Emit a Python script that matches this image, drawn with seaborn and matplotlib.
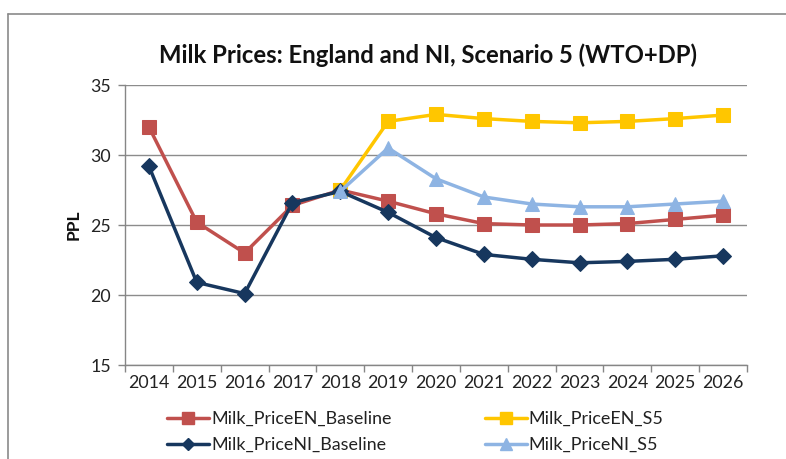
import numpy as np
import pandas as pd
import matplotlib
matplotlib.use("Agg")
import matplotlib.pyplot as plt
from matplotlib.lines import Line2D
import seaborn as sns

years = ["2014", "2015", "2016", "2017", "2018", "2019", "2020",
         "2021", "2022", "2023", "2024", "2025", "2026"]
en_baseline = [32.0, 25.2, 23.0, 26.4, 27.5, 26.7, 25.8, 25.1, 25.0, 25.0, 25.1, 25.4, 25.7]
ni_baseline = [29.2, 20.9, 20.1, 26.6, 27.4, 25.9, 24.1, 22.9, 22.55, 22.3, 22.4, 22.55, 22.8]
s5_years = ["2018", "2019", "2020", "2021", "2022", "2023", "2024", "2025", "2026"]
en_s5 = [27.5, 32.4, 32.9, 32.6, 32.4, 32.3, 32.4, 32.6, 32.85]
ni_s5 = [27.4, 30.5, 28.3, 27.0, 26.5, 26.3, 26.3, 26.5, 26.7]

title = "Milk Prices: England and NI, Scenario 5 (WTO+DP)"
ylabel = "PPL"

sns.set_theme(style="white")
plt.rcParams['font.family'] = ['Lato', 'DejaVu Sans']

fig = plt.figure(figsize=(7.86, 4.59), dpi=100)
ax = fig.add_axes([125/786, 1-365/459, (747-125)/786, (365-85)/459])

pos = {y: i for i, y in enumerate(years)}
x_all = [pos[y] for y in years]
x_s5 = [pos[y] for y in s5_years]

series = [
    ("Milk_PriceEN_Baseline", x_all, en_baseline, "#C0504D", "s", 10),
    ("Milk_PriceEN_S5", x_s5, en_s5, "#FFC600", "s", 10),
    ("Milk_PriceNI_Baseline", x_all, ni_baseline, "#17375E", "D", 8),
    ("Milk_PriceNI_S5", x_s5, ni_s5, "#8EB4E3", "^", 10.5),
]
handles = {}
for name, xs, ys, col, mk, ms in series:
    sns.lineplot(x=xs, y=ys, ax=ax, color=col, marker=mk, markersize=ms,
                 markeredgecolor=col, linewidth=2.5, label=name, legend=False)
    handles[name] = Line2D([0], [0], color=col, marker=mk, markersize=ms*0.8,
                           markeredgecolor=col, linewidth=2.5)

ax.set_xlim(-0.5, len(years) - 0.5)
ax.set_ylim(15, 35)
ax.set_yticks([15, 20, 25, 30, 35])
ax.set_xticks(range(len(years)))
ax.set_xticklabels(years)
ax.set_xticks(np.arange(-0.5, len(years), 1.0), minor=True)
ax.tick_params(axis='x', which='major', length=0, labelsize=12.8, colors='#222222', pad=7)
ax.tick_params(axis='x', which='minor', length=5, color='#868686', width=1, direction='out', bottom=True)
ax.tick_params(axis='y', length=5, color='#868686', width=1, direction='out', left=True,
               labelsize=12.8, labelcolor='#222222', pad=5)
ax.grid(axis='y', color='#8c8c8c', linewidth=1)
ax.set_axisbelow(True)
for s in ['top', 'right']:
    ax.spines[s].set_visible(False)
for s in ['left', 'bottom']:
    ax.spines[s].set_color('#868686')
    ax.spines[s].set_linewidth(1)

ax.set_ylabel(ylabel, fontsize=12.5, fontweight='bold', color='#111111', labelpad=6)
fig.text(428/786, 1-55/459, title, ha='center', va='center', fontsize=17.2,
         fontweight='bold', color='#111111')

order = ["Milk_PriceEN_Baseline", "Milk_PriceNI_Baseline", "Milk_PriceEN_S5", "Milk_PriceNI_S5"]
leg = fig.legend([handles[n] for n in order], order, ncol=2, loc='upper left',
                 bbox_to_anchor=(167/786, 1-411/459), frameon=False, fontsize=12.9,
                 borderpad=0, borderaxespad=0,
                 handlelength=2.35, handletextpad=0.1, columnspacing=5.2, labelspacing=0.55)
for t in leg.get_texts():
    t.set_color('#222222')

# outer chart border (top and left visible)
fig.add_artist(Line2D([8/786, 1], [1-14/459, 1-14/459], color='#8a8a8a', linewidth=1.2))
fig.add_artist(Line2D([8/786, 8/786], [0, 1-14/459], color='#8a8a8a', linewidth=1.2))

fig.savefig("out.png", dpi=100)
